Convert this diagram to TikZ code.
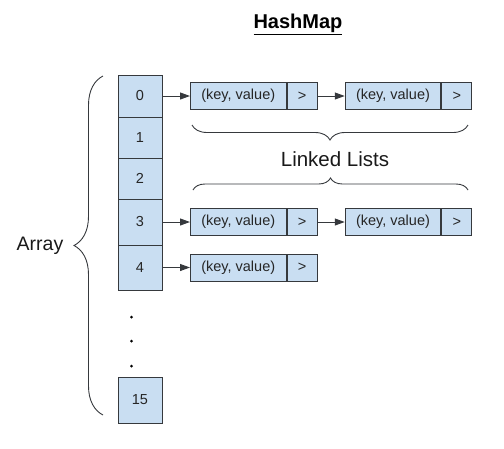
\documentclass[tikz,border=0pt]{standalone}
\usepackage{fontspec}
\setmainfont{Liberation Sans}
\usetikzlibrary{positioning, arrows.meta, decorations.pathreplacing}
\definecolor{cellblue}{RGB}{201,222,242}
\definecolor{edgegray}{RGB}{54,57,61}

\begin{document}
\begin{tikzpicture}[x=1pt, y=-1pt,
    cell/.style={draw=edgegray, fill=cellblue, line width=1pt, minimum width=44pt,
        inner sep=0pt, text=black!85, font=\fontsize{14.5}{17}\selectfont},
    kv/.style={cell, minimum width=95.5pt, minimum height=27pt},
    ptr/.style={cell, minimum width=30pt, minimum height=27pt, anchor=west},
    link/.style={-{Triangle[length=10pt, width=7pt]}, line width=1pt, edgegray},
    bracket/.style={decorate, decoration={brace, amplitude=#1}, line width=0.9pt, edgegray}]
    \useasboundingbox (0,0) rectangle (504,448);

    % タイトル
    \node[font=\fontsize{20}{24}\selectfont\bfseries] (title) at (298,24) {\underline{HashMap}};

    % 配列
    \foreach \i/\yc/\h in {0/96/42, 1/137.5/41, 2/178.5/41, 3/222/46, 4/267.5/45, 15/400/46}
        \node[cell, minimum height=\h] (c\i) at (140,\yc) {\i};

    % 省略
    \foreach \yd in {317, 341, 366}
        \fill[black] (131.5,\yd) circle (1.5);

    % リスト
    \node[kv] (kv0a) at (238.25,96) {(key, value)};
    \node[ptr] (p0a) at (kv0a.east) {>};
    \node[kv] (kv0b) at (393,96) {(key, value)};
    \node[ptr] (p0b) at (kv0b.east) {>};

    \node[kv] (kv3a) at (238.25,222) {(key, value)};
    \node[ptr] (p3a) at (kv3a.east) {>};
    \node[kv] (kv3b) at (393,222) {(key, value)};
    \node[ptr] (p3b) at (kv3b.east) {>};

    \node[kv] (kv4a) at (238.25,267.5) {(key, value)};
    \node[ptr] (p4a) at (kv4a.east) {>};

    % 矢印
    \draw[link] (c0.east) -- (kv0a.west);
    \draw[link] (p0a.east) -- (kv0b.west);
    \draw[link] (c3.east) -- (kv3a.west);
    \draw[link] (p3a.east) -- (kv3b.west);
    \draw[link] (c4.east) -- (kv4a.west);

    % 括弧
    \draw[bracket=15, decoration={mirror}] (192,125) -- (468,125);
    \draw[bracket=12] (193,190) -- (468,190);
    \draw[bracket=29] (103,415) -- (103,76);

    % ラベル
    \node[font=\fontsize{20.5}{24}\selectfont, text=black!90] (lists) at (335,159) {Linked Lists};
    \node[font=\fontsize{19.5}{23}\selectfont, text=black!90] (array) at (40,246) {Array};
\end{tikzpicture}
\end{document}
